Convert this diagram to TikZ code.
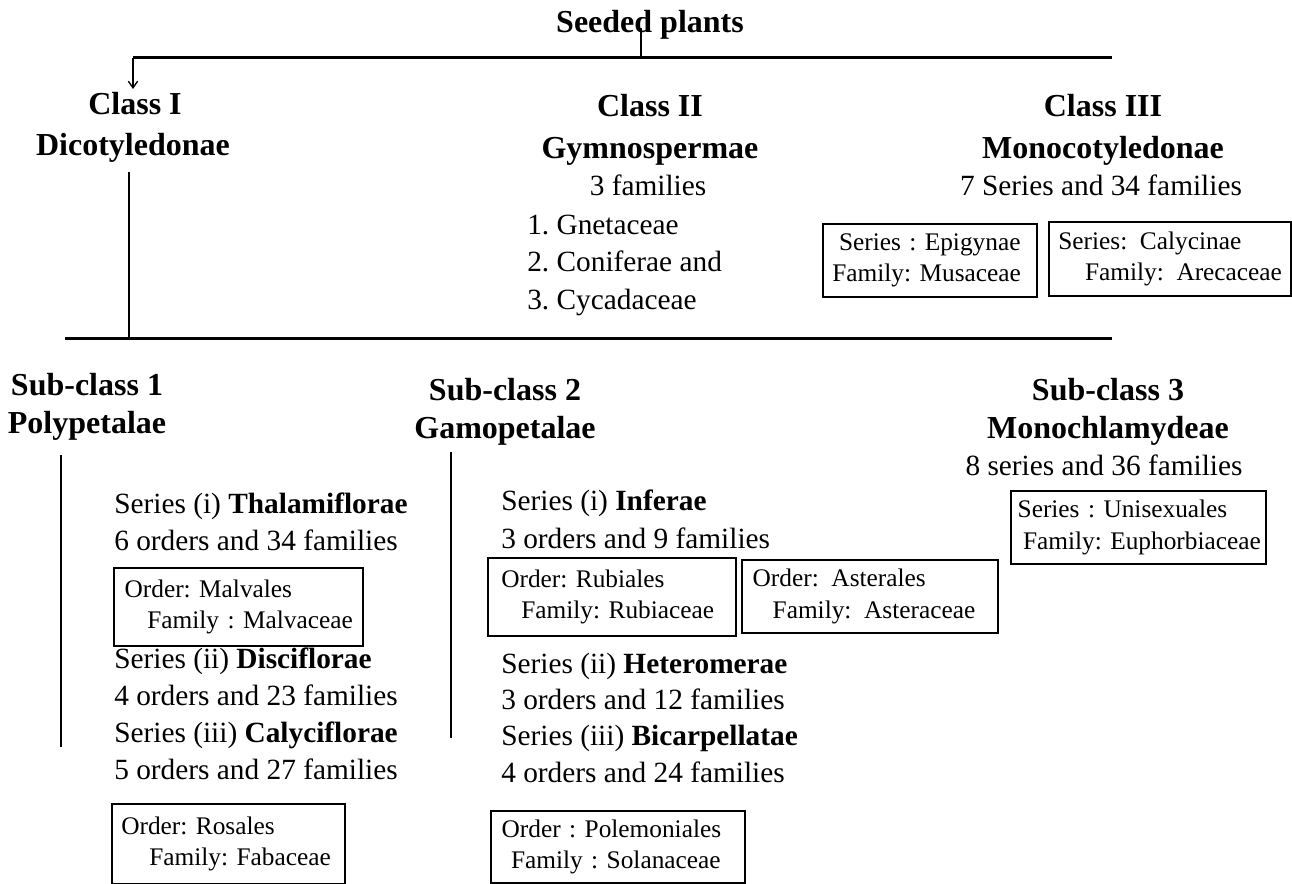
\documentclass[tikz,border=0pt]{standalone}
\usepackage{fontspec}
\setmainfont{Liberation Serif}
\frenchspacing
\usetikzlibrary{arrows.meta}

\newcommand{\hdsize}{\fontsize{24}{29}\selectfont\bfseries}
\newcommand{\txsize}{\fontsize{22}{27}\selectfont}
\newcommand{\bxsize}{\fontsize{19}{23.5}\selectfont}

\tikzset{
	hd/.style={anchor=base, inner sep=0.75pt, font=\hdsize},
	tx/.style={anchor=base west, inner sep=0.75pt, font=\txsize},
	txc/.style={anchor=base, inner sep=0.75pt, font=\txsize},
	famBox/.style 2 args={draw, line width=1.5, anchor=north west, inner xsep=0pt, inner ysep=0pt,
		font=\bxsize, align=left, text width=#1*0.75pt, minimum width=#1*0.75pt, minimum height=#2*0.75pt},
	bar/.style={line width=2.25},
	stem/.style={line width=1.5},
}

\begin{document}
\begin{tikzpicture}[x=0.75pt,y=0.75pt,yscale=-1,xscale=1]
	\useasboundingbox (0,0) rectangle (1292,884);

	% Text Node
	\node [hd] (seeded) at (650,33) {Seeded plants};
	% Text Node
	\node [hd] (cls1) at (135,115) {Class I};
	\node [hd] (dicot) at (133,156) {Dicotyledonae};
	% Text Node
	\node [hd] (cls2) at (650,117) {Class II};
	\node [hd] (gymno) at (650,159) {Gymnospermae};
	\node [txc] (gymfam) at (648,196) {3 families};
	\node [tx] (gym1) at (526,235) {1. Gnetaceae};
	\node [tx] (gym2) at (526,272) {2. Coniferae and};
	\node [tx] (gym3) at (526,310) {3. Cycadaceae};
	% Text Node
	\node [hd] (cls3) at (1103,117) {Class III};
	\node [hd] (monocot) at (1103,159) {Monocotyledonae};
	\node [txc] (monofam) at (1101,196) {7 Series and 34 families};
	\node [famBox={214}{73}] (epig) at (822,223) {\hspace*{12pt}Series : Epigynae\\\hspace*{7pt}Family: Musaceae};
	\node [famBox={242}{74}] (calyc) at (1048,221) {\hspace*{7pt}Series:\enspace Calycinae\\\hspace*{27pt}Family:\enspace Arecaceae};

	% Text Node
	\node [hd] (sub1) at (87,395) {Sub-class 1};
	\node [hd] (poly) at (87,433) {Polypetalae};
	\node [hd] (sub2) at (505,400) {Sub-class 2};
	\node [hd] (gamo) at (505,438) {Gamopetalae};
	\node [hd] (sub3) at (1108,400) {Sub-class 3};
	\node [hd] (mono) at (1108,438) {Monochlamydeae};
	\node [txc] (monofam2) at (1104,475) {8 series and 36 families};
	\node [famBox={255}{73}] (unisex) at (1010,490) {\hspace*{5pt}Series : Unisexuales\\\hspace*{9pt}\mbox{Family: Euphorbiaceae}};

	% Text Node
	\node [tx] (thala) at (113,513) {Series (i) \textbf{Thalamiflorae}};
	\node [tx] (thalafam) at (113,550) {6 orders and 34 families};
	\node [famBox={249}{78}] (malv) at (113,567) {\hspace*{8pt}Order: Malvales\\\hspace*{25pt}Family : Malvaceae};
	\node [tx] (disci) at (113,668) {Series (ii) \textbf{Disciflorae}};
	\node [tx] (discifam) at (113,705) {4 orders and 23 families};
	\node [tx] (calyci) at (113,742) {Series (iii) \textbf{Calyciflorae}};
	\node [tx] (calycifam) at (113,779) {5 orders and 27 families};
	\node [famBox={233}{80}] (rosal) at (111,803) {\hspace*{7pt}Order: Rosales\\\hspace*{28pt}Family: Fabaceae};

	% Text Node
	\node [tx] (infer) at (500,510) {Series (i) \textbf{Inferae}};
	\node [tx] (inferfam) at (500,548) {3 orders and 9 families};
	\node [famBox={248}{78}] (rubi) at (487,557) {\hspace*{10pt}Order: Rubiales\\\hspace*{25pt}Family: Rubiaceae};
	\node [famBox={256}{73}] (aster) at (741,559) {\hspace*{8pt}Order:\enspace Asterales\\\hspace*{23pt}Family:\enspace Asteraceae};
	\node [tx] (hetero) at (500,673) {Series (ii) \textbf{Heteromerae}};
	\node [tx] (heterofam) at (500,709) {3 orders and 12 families};
	\node [tx] (bicarp) at (500,745) {Series (iii) \textbf{Bicarpellatae}};
	\node [tx] (bicarpfam) at (500,782) {4 orders and 24 families};
	\node [famBox={254}{72}] (polem) at (490,810) {\hspace*{8pt}Order : Polemoniales\\\hspace*{15pt}Family : Solanaceae};

	% Connection
	\coordinate (topL) at (133,58);
	\coordinate (topM) at (641,58);
	\coordinate (topR) at (1112,58);
	\draw [stem] (641,28) -- (topM);
	\draw [bar] (topL) -- (topR);
	\draw [line width=1, -{Straight Barb[length=5pt,width=7pt]}] (topL) -- (133,89);
	% Connection
	\coordinate (midL) at (65,338);
	\coordinate (midD) at (129,338);
	\coordinate (midR) at (1112,338);
	\draw [stem] (129,172) -- (midD);
	\draw [bar] (midL) -- (midR);
	% Connection
	\draw [stem] (61,455) -- (61,747);
	\draw [stem] (451,452) -- (451,738);

\end{tikzpicture}
\end{document}
